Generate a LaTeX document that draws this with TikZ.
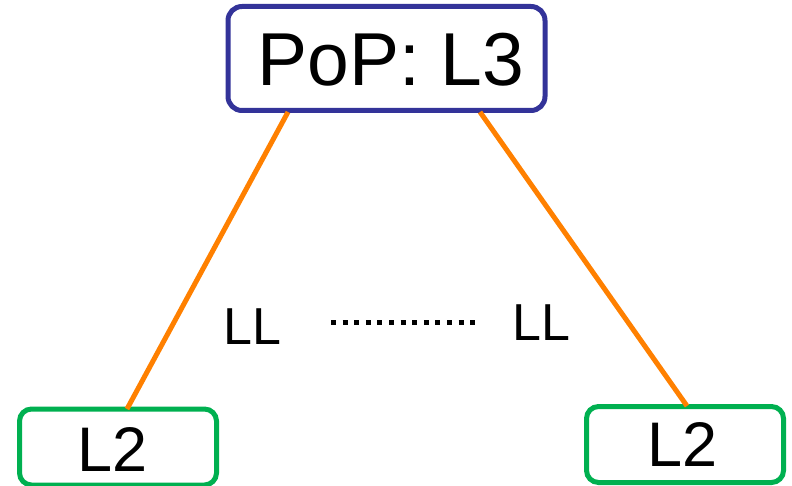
\documentclass[tikz,border=0pt]{standalone}
\usepackage{fontspec}
\setmainfont{Liberation Sans}
\usetikzlibrary{calc}
\definecolor{popblue}{RGB}{51,51,153}
\definecolor{lgreen}{RGB}{0,176,80}
\definecolor{linkorange}{RGB}{255,128,0}
\begin{document}
\begin{tikzpicture}[x=1pt,y=-1pt,
  popbox/.style={draw=popblue,line width=5pt,rounded corners=14pt,minimum width=317pt,minimum height=104pt,inner sep=0pt},
  l2box/.style={draw=lgreen,line width=5pt,rounded corners=12pt,minimum width=197pt,minimum height=76pt,inner sep=0pt},
  lbl/.style={inner sep=0pt,text=black},
  link/.style={draw=linkorange,line width=5pt}]
\useasboundingbox (0,0) rectangle (792,486);
\node[popbox] (pop) at (386.5,58.5) {};
\node[l2box] (l2a) at (118,447) {};
\node[l2box] (l2b) at (685,444.5) {};
\node[lbl,font=\fontsize{75}{75}\selectfont] (poptxt) at (391,60) {PoP: L3};
\node[lbl,font=\fontsize{63}{63}\selectfont] (l2atxt) at (112.5,450) {L2};
\node[lbl,font=\fontsize{63}{63}\selectfont] (l2btxt) at (682.5,445) {L2};
\node[lbl,font=\fontsize{52}{52}\selectfont] (lla) at (252.5,326.5) {LL};
\node[lbl,font=\fontsize{52}{52}\selectfont] (llb) at (541.5,322.5) {LL};
\coordinate (pl) at (288,112);
\coordinate (pr) at (480,112);
\coordinate (al) at (127,409);
\coordinate (br) at (687,406);
\draw[link] (pl) -- (al);
\draw[link] (pr) -- (br);
\coordinate (d1) at (331,322);
\coordinate (d2) at (476,322);
\draw[black,line width=5pt,dash pattern=on 5pt off 6.6pt] (d1) -- (d2);
\end{tikzpicture}
\end{document}
